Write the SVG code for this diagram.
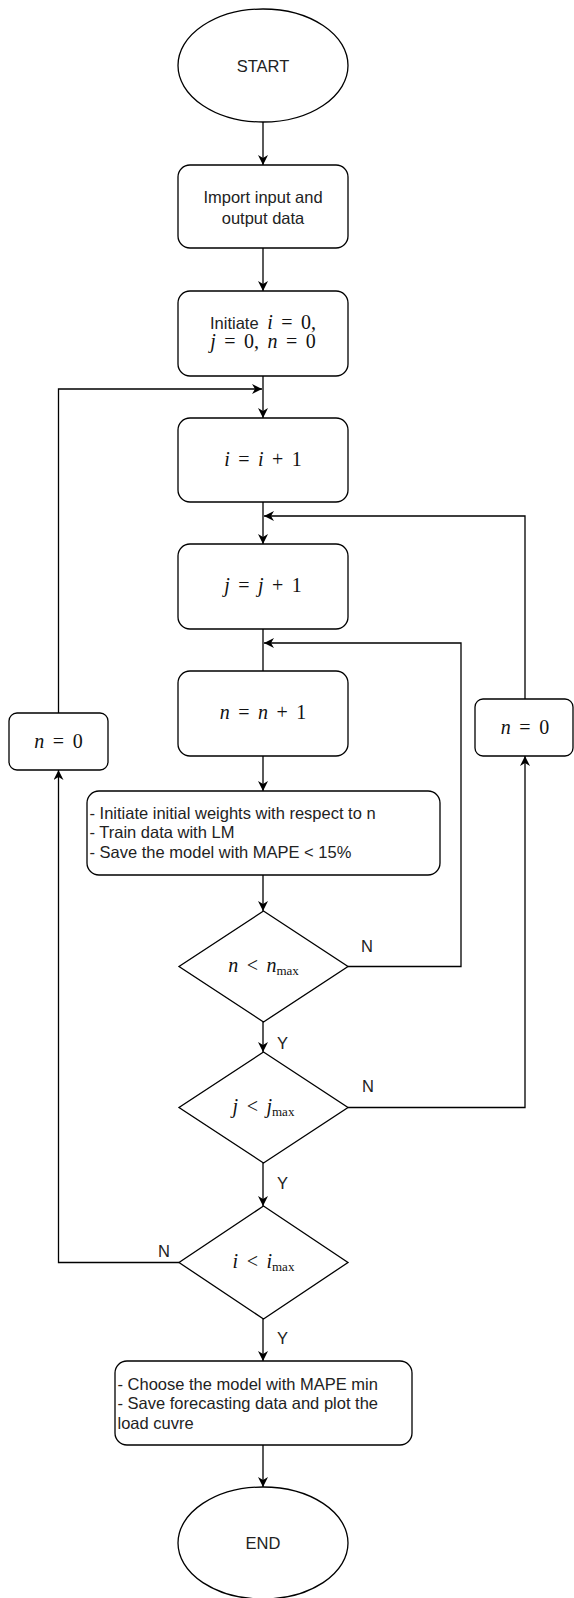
<svg xmlns="http://www.w3.org/2000/svg" width="574" height="1598" viewBox="0 0 574 1598">
<style>
.shape{fill:#fff;stroke:#000;stroke-width:1.3}
.edge{fill:none;stroke:#000;stroke-width:1.3}
.t{font-family:"Liberation Sans",Arial,sans-serif;font-size:16.5px;fill:#222}
.c{text-anchor:middle}
.m{font-family:"Liberation Serif","Times New Roman",serif;font-size:20px;fill:#111;word-spacing:3.5px}
.v{font-style:italic}
.sub{font-size:13px;font-style:normal;word-spacing:0}
</style>
<defs>
<marker id="arr" viewBox="0 0 10 10" refX="10" refY="5" markerWidth="10" markerHeight="10" markerUnits="userSpaceOnUse" orient="auto">
<path d="M0,0 L10,5 L0,10 L3,5 z" fill="#000"/>
</marker>
</defs>
<rect width="574" height="1598" fill="#fff"/>
<g id="connectors">
<path class="edge" d="M263,122 L263,165" marker-end="url(#arr)"/>
<path class="edge" d="M263,248 L263,291" marker-end="url(#arr)"/>
<path class="edge" d="M263,376 L263,418" marker-end="url(#arr)"/>
<path class="edge" d="M263,502 L263,544" marker-end="url(#arr)"/>
<path class="edge" d="M263,629 L263,671"/>
<path class="edge" d="M263,756 L263,791" marker-end="url(#arr)"/>
<path class="edge" d="M263,875 L263,911" marker-end="url(#arr)"/>
<path class="edge" d="M263,1022 L263,1052" marker-end="url(#arr)"/>
<path class="edge" d="M263,1163 L263,1206" marker-end="url(#arr)"/>
<path class="edge" d="M263,1319 L263,1361" marker-end="url(#arr)"/>
<path class="edge" d="M263,1445 L263,1487" marker-end="url(#arr)"/>
<path class="edge" d="M348,966.5 L461,966.5 L461,643 L264,643" marker-end="url(#arr)"/>
<path class="edge" d="M348,1107.5 L525,1107.5 L525,756" marker-end="url(#arr)"/>
<path class="edge" d="M525,699 L525,516 L264,516" marker-end="url(#arr)"/>
<path class="edge" d="M179,1262.5 L58.5,1262.5 L58.5,770" marker-end="url(#arr)"/>
<path class="edge" d="M58.5,713 L58.5,389 L262,389" marker-end="url(#arr)"/>
<text class="t" x="361" y="952">N</text>
<text class="t" x="277" y="1049">Y</text>
<text class="t" x="362" y="1092">N</text>
<text class="t" x="277" y="1189">Y</text>
<text class="t" x="158" y="1257">N</text>
<text class="t" x="277" y="1344">Y</text>
</g>
<g id="start">
<ellipse class="shape" cx="263" cy="65.5" rx="85" ry="56.5"/>
<text class="t c" x="263" y="71.5">START</text>
</g>
<g id="import">
<rect class="shape" x="178" y="165" width="170" height="83" rx="12"/>
<text class="t c" x="263" y="203">Import input and</text>
<text class="t c" x="263" y="224">output data</text>
</g>
<g id="init">
<rect class="shape" x="178" y="291" width="170" height="85" rx="12"/>
<text class="m c" x="263" y="329"><tspan class="t" style="word-spacing:0">Initiate</tspan> <tspan class="v">i</tspan> = 0,</text>
<text class="m c" x="263" y="348"><tspan class="v">j</tspan> = 0, <tspan class="v">n</tspan> = 0</text>
</g>
<g id="inc-i">
<rect class="shape" x="178" y="418" width="170" height="84" rx="12"/>
<text class="m c" x="263" y="466"><tspan class="v">i</tspan> = <tspan class="v">i</tspan> + 1</text>
</g>
<g id="inc-j">
<rect class="shape" x="178" y="544" width="170" height="85" rx="12"/>
<text class="m c" x="263" y="592"><tspan class="v">j</tspan> = <tspan class="v">j</tspan> + 1</text>
</g>
<g id="inc-n">
<rect class="shape" x="178" y="671" width="170" height="85" rx="12"/>
<text class="m c" x="263" y="719"><tspan class="v">n</tspan> = <tspan class="v">n</tspan> + 1</text>
</g>
<g id="train">
<rect class="shape" x="87" y="791" width="353" height="84" rx="12"/>
<text class="t" x="89.5" y="818.5">- Initiate initial weights with respect to n</text>
<text class="t" x="89.5" y="838">- Train data with LM</text>
<text class="t" x="89.5" y="858">- Save the model with MAPE &lt; 15%</text>
</g>
<g id="reset-n-left">
<rect class="shape" x="9" y="713" width="99" height="57" rx="8"/>
<text class="m c" x="58.5" y="748"><tspan class="v">n</tspan> = 0</text>
</g>
<g id="reset-n-right">
<rect class="shape" x="475" y="699" width="98" height="57" rx="8"/>
<text class="m c" x="525" y="734"><tspan class="v">n</tspan> = 0</text>
</g>
<g id="check-n">
<polygon class="shape" points="263.5,911 348,966.5 263.5,1022 179,966.5"/>
<text class="m c" x="263.5" y="972"><tspan class="v">n</tspan> &lt; <tspan class="v">n</tspan><tspan class="sub" dy="3">max</tspan></text>
</g>
<g id="check-j">
<polygon class="shape" points="263.5,1052 348,1107.5 263.5,1163 179,1107.5"/>
<text class="m c" x="263.5" y="1113"><tspan class="v">j</tspan> &lt; <tspan class="v">j</tspan><tspan class="sub" dy="3">max</tspan></text>
</g>
<g id="check-i">
<polygon class="shape" points="263.5,1206 348,1262.5 263.5,1319 179,1262.5"/>
<text class="m c" x="263.5" y="1268"><tspan class="v">i</tspan> &lt; <tspan class="v">i</tspan><tspan class="sub" dy="3">max</tspan></text>
</g>
<g id="choose">
<rect class="shape" x="115" y="1361" width="297" height="84" rx="12"/>
<text class="t" x="117.5" y="1389.5">- Choose the model with MAPE min</text>
<text class="t" x="117.5" y="1409">- Save forecasting data and plot the</text>
<text class="t" x="117.5" y="1429">load cuvre</text>
</g>
<g id="end">
<ellipse class="shape" cx="263" cy="1543" rx="85" ry="56"/>
<text class="t c" x="263" y="1549">END</text>
</g>
</svg>
